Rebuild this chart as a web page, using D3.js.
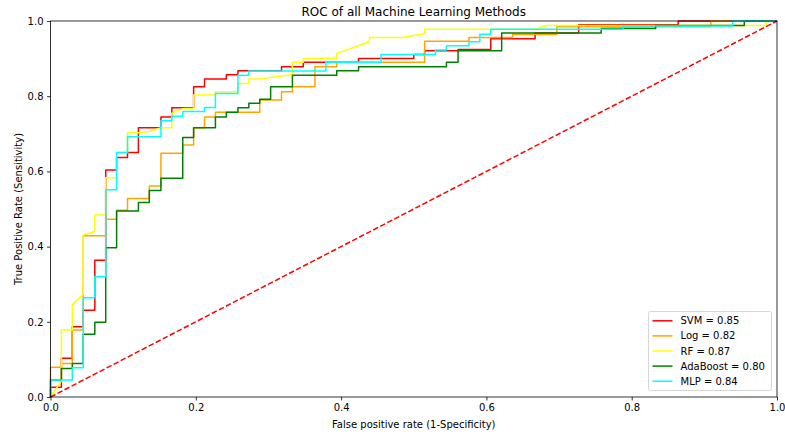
<!DOCTYPE html>
<html>
<head>
<meta charset="utf-8">
<script src="https://cdn.jsdelivr.net/npm/d3@7"></script>
<style>
  body { margin: 0; background: #fff; }
  text { font-family: "DejaVu Sans", sans-serif; fill: #000; }
</style>
</head>
<body>
<svg width="785" height="435"></svg>
<script>
// ROC points [fpr, tpr]
const svmRoc = [[0,0],[0,.026],[.015,.026],[.015,.103],[.030,.103],[.030,.187],[.045,.187],[.045,.231],[.061,.231],[.061,.364],[.076,.364],[.076,.604],[.091,.604],[.091,.637],[.106,.637],[.106,.65],[.121,.65],[.121,.716],[.152,.716],[.152,.745],[.167,.745],[.167,.769],[.197,.769],[.197,.825],[.212,.825],[.212,.846],[.242,.846],[.242,.857],[.258,.857],[.258,.868],[.318,.868],[.318,.878],[.348,.878],[.348,.89],[.424,.89],[.424,.90],[.5,.90],[.5,.911],[.515,.911],[.515,.921],[.561,.921],[.561,.924],[.606,.924],[.606,.953],[.667,.953],[.667,.968],[.727,.968],[.727,.99],[.864,.99],[.864,1],[1,1]];
const logRoc = [[0,0],[0,.079],[.015,.079],[.015,.089],[.030,.089],[.030,.178],[.045,.178],[.045,.429],[.076,.429],[.076,.473],[.091,.473],[.091,.497],[.106,.497],[.106,.528],[.136,.528],[.136,.561],[.152,.561],[.152,.648],[.182,.648],[.182,.67],[.197,.67],[.197,.716],[.212,.716],[.212,.745],[.227,.745],[.227,.757],[.288,.757],[.288,.79],[.318,.79],[.318,.812],[.333,.812],[.333,.825],[.364,.825],[.364,.878],[.394,.878],[.394,.89],[.515,.89],[.515,.946],[.576,.946],[.576,.956],[.636,.956],[.636,.964],[.697,.964],[.697,.985],[.909,.985],[.909,1],[1,1]];
const rfRoc = [[0,0],[.015,.043],[.015,.178],[.030,.178],[.030,.245],[.045,.273],[.045,.431],[.061,.44],[.061,.484],[.076,.484],[.076,.583],[.091,.583],[.091,.65],[.106,.65],[.106,.703],[.121,.703],[.136,.706],[.152,.716],[.167,.716],[.167,.755],[.182,.767],[.197,.767],[.197,.803],[.227,.803],[.227,.812],[.258,.812],[.258,.834],[.273,.834],[.273,.846],[.288,.846],[.333,.858],[.333,.89],[.348,.89],[.348,.90],[.394,.90],[.394,.914],[.439,.945],[.439,.956],[.485,.956],[.515,.967],[.515,.978],[.667,.978],[.682,.988],[.985,.988],[.985,1],[1,1]];
const adaRoc = [[0,0],[0,.045],[.015,.045],[.015,.076],[.030,.076],[.030,.089],[.045,.089],[.045,.167],[.061,.167],[.061,.199],[.076,.199],[.076,.397],[.091,.397],[.091,.495],[.121,.495],[.121,.517],[.136,.517],[.136,.549],[.152,.549],[.152,.582],[.182,.582],[.182,.69],[.197,.69],[.197,.716],[.227,.716],[.227,.745],[.242,.745],[.242,.757],[.258,.757],[.258,.769],[.273,.769],[.273,.781],[.288,.781],[.288,.792],[.303,.792],[.303,.825],[.333,.825],[.333,.856],[.394,.856],[.394,.868],[.424,.868],[.424,.878],[.545,.878],[.545,.89],[.561,.89],[.561,.921],[.621,.921],[.621,.968],[.758,.968],[.758,.98],[.833,.98],[.833,.988],[.955,.988],[.955,1],[1,1]];
const mlpRoc = [[0,0],[0,.045],[.030,.045],[.030,.078],[.045,.078],[.045,.264],[.061,.264],[.061,.32],[.076,.32],[.076,.551],[.091,.551],[.091,.65],[.106,.65],[.106,.692],[.152,.692],[.152,.735],[.167,.735],[.167,.747],[.182,.747],[.182,.759],[.212,.759],[.212,.770],[.227,.770],[.227,.807],[.258,.807],[.258,.856],[.273,.856],[.273,.867],[.379,.867],[.379,.89],[.455,.89],[.455,.911],[.530,.911],[.530,.923],[.545,.923],[.545,.934],[.576,.934],[.576,.945],[.591,.945],[.591,.965],[.606,.965],[.606,.978],[.788,.978],[.788,.987],[.939,.987],[.939,1],[1,1]];
const chance = [[0,0],[1,1]];

const modelNames = ["SVM", "Log", "RF", "AdaBoost", "MLP"];
const aucValues = ["0.85", "0.82", "0.87", "0.80", "0.84"];
const rocData = [svmRoc, logRoc, rfRoc, adaRoc, mlpRoc];
const colors = ["#ff0000", "#ffa500", "#ffff00", "#008000", "#00ffff"];
const ticks = [0, 0.2, 0.4, 0.6, 0.8, 1.0];

const svg = d3.select("svg");
const mLeft = 50.5, mRight = 777, mTop = 21, mBottom = 397;

const x = d3.scaleLinear().domain([0, 1]).range([mLeft, mRight]);
const y = d3.scaleLinear().domain([0, 1]).range([mBottom, mTop]);

const line = d3.line().x(d => x(d[0])).y(d => y(d[1]));

// curves
rocData.forEach((d, i) => {
  svg.append("path")
     .datum(d)
     .attr("d", line)
     .attr("fill", "none")
     .attr("stroke", colors[i])
     .attr("stroke-width", 1.5)
     .attr("stroke-linejoin", "round");
});

// chance line
svg.append("path")
   .datum(chance)
   .attr("d", line)
   .attr("fill", "none")
   .attr("stroke", "#ff0000")
   .attr("stroke-width", 1.5)
   .attr("stroke-dasharray", "5.5,2.4");

// axes
const xAxis = svg.append("g")
   .attr("transform", "translate(0," + mBottom + ")")
   .call(d3.axisBottom(x).tickValues(ticks).tickFormat(d3.format(".1f")).tickSize(3.5).tickPadding(3.5));
const yAxis = svg.append("g")
   .attr("transform", "translate(" + mLeft + ",0)")
   .call(d3.axisLeft(y).tickValues(ticks).tickFormat(d3.format(".1f")).tickSize(3.5).tickPadding(3.5));
[xAxis, yAxis].forEach(a => {
  a.select(".domain").remove();
  a.selectAll(".tick line").attr("stroke", "#000").attr("stroke-width", 0.8);
  a.selectAll(".tick text").attr("font-size", 10).attr("font-family", "DejaVu Sans");
});

// frame
svg.append("rect")
   .attr("x", mLeft).attr("y", mTop)
   .attr("width", mRight - mLeft).attr("height", mBottom - mTop)
   .attr("fill", "none").attr("stroke", "#000").attr("stroke-width", 0.8);

// title and labels
svg.append("text")
   .attr("x", (mLeft + mRight) / 2).attr("y", 16)
   .attr("text-anchor", "middle").attr("font-size", 12)
   .text("ROC of all Machine Learning Methods");
svg.append("text")
   .attr("x", (mLeft + mRight) / 2).attr("y", 428)
   .attr("text-anchor", "middle").attr("font-size", 10)
   .text("False positive rate (1-Specificity)");
svg.append("text")
   .attr("transform", "translate(22," + (mTop + mBottom) / 2 + ") rotate(-90)")
   .attr("text-anchor", "middle").attr("font-size", 10)
   .text("True Positive Rate (Sensitivity)");

// legend
const legend = svg.append("g").attr("transform", "translate(648.5,311.5)");
legend.append("rect")
   .attr("width", 123).attr("height", 79).attr("rx", 2)
   .attr("fill", "#fff").attr("fill-opacity", 0.8)
   .attr("stroke", "#cccccc").attr("stroke-width", 0.8);
modelNames.forEach((name, i) => {
  const row = 9.3 + i * 15.1;
  legend.append("line")
     .attr("x1", 4).attr("x2", 24).attr("y1", row).attr("y2", row)
     .attr("stroke", colors[i]).attr("stroke-width", 1.5);
  legend.append("text")
     .attr("x", 32).attr("y", row).attr("dy", "0.35em")
     .attr("font-size", 10)
     .text(name + " = " + aucValues[i]);
});
</script>
</body>
</html>
